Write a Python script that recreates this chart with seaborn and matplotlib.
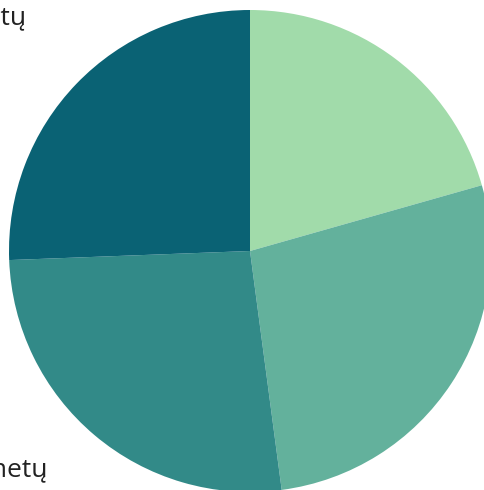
import matplotlib
matplotlib.use('Agg')
import matplotlib.pyplot as plt
import seaborn as sns

sns.set_theme(style='white')
plt.rcParams['font.family'] = ['Open Sans', 'DejaVu Sans']

# slice shares (clockwise from 12 o'clock)
labels = ['18–29 metų', '30–44 metų', '45–59 metų', '60 ir daugiau metų']
values = [20.6, 27.3, 26.5, 25.6]
colors = ['#a1dbaa', '#63b19c', '#328a88', '#0a6274']

W, H = 485, 490
cx, cy, r = 250, 251, 241

fig = plt.figure(figsize=(W / 100, H / 100), dpi=100)
ax = fig.add_axes([0, 0, 1, 1])
ax.pie(values, colors=colors, startangle=90, counterclock=False,
       radius=1, wedgeprops=dict(linewidth=0))
ax.set_xlim(-cx / r, (W - cx) / r)
ax.set_ylim(-(H - cy) / r, cy / r)
ax.set_aspect('equal')
ax.axis('off')

def px(x, y):
    return (x - cx) / r, (cy - y) / r

# only the left-hand labels reach into the picture; they are cut by its edge
for lab, (x, y) in zip(labels[2:], [(47, 476), (26, 25)]):
    tx, ty = px(x, y)
    ax.text(tx, ty, lab, ha='right', va='baseline', fontsize=19,
            color='#222222', clip_on=False)

fig.savefig('out.png', dpi=100)
